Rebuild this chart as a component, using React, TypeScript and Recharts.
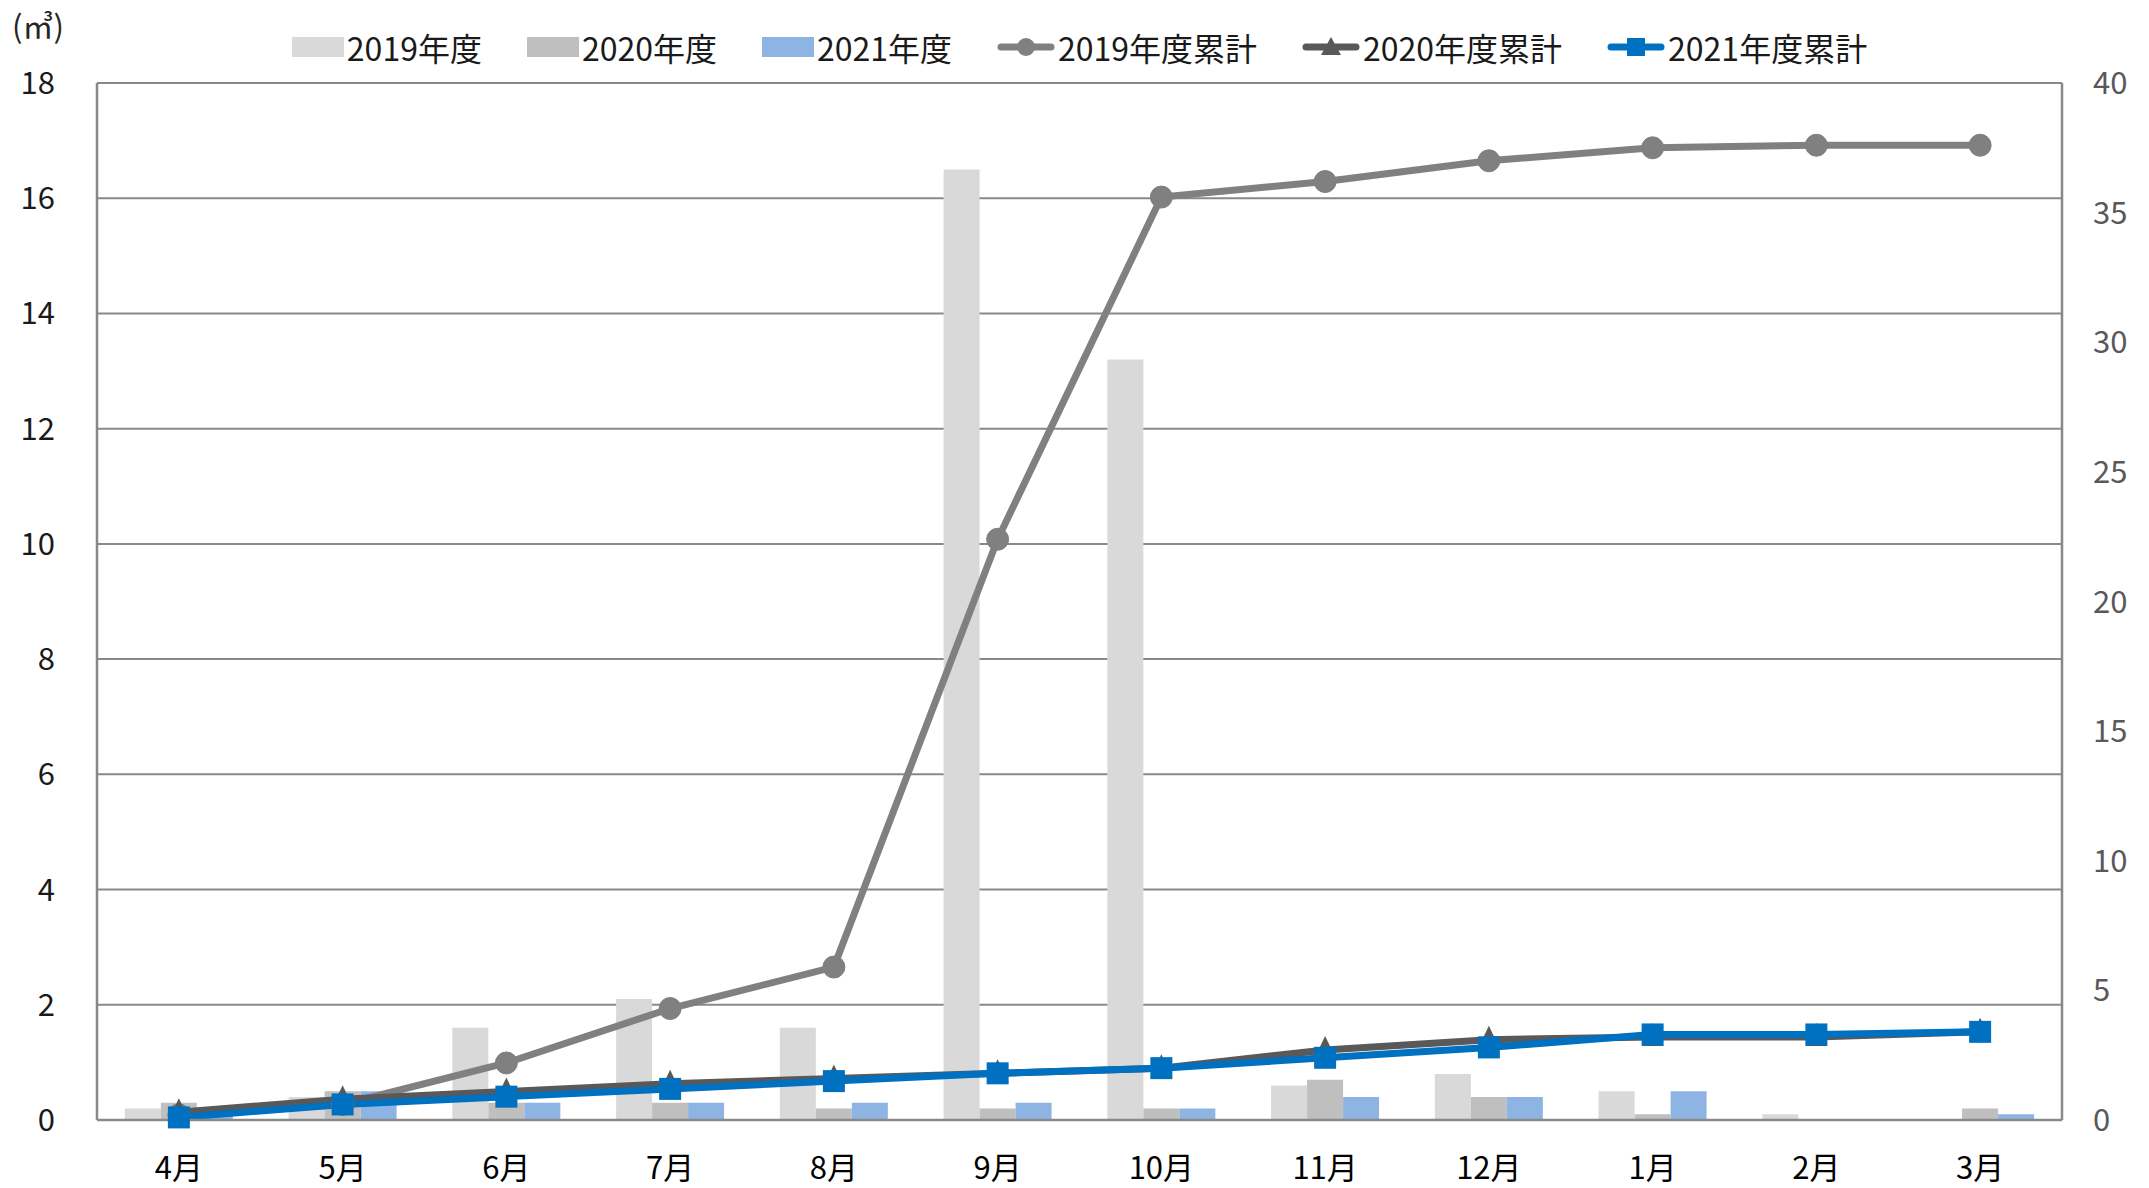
import { Bar, CartesianGrid, ComposedChart, Line, XAxis, YAxis } from "recharts";

// 月ラベル（年度は4月始まり）
const months = ["4月", "5月", "6月", "7月", "8月", "9月", "10月", "11月", "12月", "1月", "2月", "3月"];

// 月別の量（㎥）
const fy2019 = [0.2, 0.4, 1.6, 2.1, 1.6, 16.5, 13.2, 0.6, 0.8, 0.5, 0.1, 0];
const fy2020 = [0.3, 0.5, 0.3, 0.3, 0.2, 0.2, 0.2, 0.7, 0.4, 0.1, 0, 0.2];
const fy2021 = [0.1, 0.5, 0.3, 0.3, 0.3, 0.3, 0.2, 0.4, 0.4, 0.5, 0, 0.1];

// 累計（右軸）
const cum2019 = [0.2, 0.6, 2.2, 4.3, 5.9, 22.4, 35.6, 36.2, 37.0, 37.5, 37.6, 37.6];
const cum2020 = [0.3, 0.8, 1.1, 1.4, 1.6, 1.8, 2.0, 2.7, 3.1, 3.2, 3.2, 3.4];
const cum2021 = [0.1, 0.6, 0.9, 1.2, 1.5, 1.8, 2.0, 2.4, 2.8, 3.3, 3.3, 3.4];

// 軸の目盛り
const leftTicks = [0, 2, 4, 6, 8, 10, 12, 14, 16, 18];
const rightTicks = [0, 5, 10, 15, 20, 25, 30, 35, 40];

const data = months.map((m, i) => ({
  month: m,
  fy2019: fy2019[i],
  fy2020: fy2020[i],
  fy2021: fy2021[i],
  cum2019: cum2019[i],
  cum2020: cum2020[i],
  cum2021: cum2021[i],
}));

const C19 = "#d9d9d9";
const C20 = "#bfbfbf";
const C21 = "#8eb4e3";
const L19 = "#808080";
const L20 = "#595959";
const L21 = "#0070c0";
const AXIS = "#898989";

const TriangleDot = (props: any) => {
  const { cx, cy, index } = props;
  if (cx == null || cy == null) return <g key={`t-${index}`} />;
  return (
    <polygon
      key={`t-${index}`}
      points={`${cx},${cy - 14} ${cx + 11},${cy + 9} ${cx - 11},${cy + 9}`}
      fill={L20}
    />
  );
};

const SquareDot = (props: any) => {
  const { cx, cy, index } = props;
  if (cx == null || cy == null) return <g key={`s-${index}`} />;
  return <rect key={`s-${index}`} x={cx - 11} y={cy - 11} width={22} height={22} fill={L21} />;
};

// 凡例（グラフの上に重ねる）
const legendItems = [
  { label: "2019年度", kind: "bar", color: C19 },
  { label: "2020年度", kind: "bar", color: C20 },
  { label: "2021年度", kind: "bar", color: C21 },
  { label: "2019年度累計", kind: "circle", color: L19 },
  { label: "2020年度累計", kind: "triangle", color: L20 },
  { label: "2021年度累計", kind: "square", color: L21 },
];

const LegendIcon = ({ kind, color }: { kind: string; color: string }) => {
  if (kind === "bar") {
    return (
      <svg width={52} height={20} style={{ display: "block" }}>
        <rect x={0} y={0} width={52} height={20} fill={color} />
      </svg>
    );
  }
  return (
    <svg width={58} height={26} style={{ display: "block" }}>
      <line x1={4} y1={13} x2={54} y2={13} stroke={color} strokeWidth={7} strokeLinecap="round" />
      {kind === "circle" && <circle cx={29} cy={13} r={9} fill={color} />}
      {kind === "triangle" && <polygon points="29,3 39,21 19,21" fill={color} />}
      {kind === "square" && <rect x={20} y={4} width={18} height={18} fill={color} />}
    </svg>
  );
};

const App = () => {
  return (
    <div
      style={{
        position: "absolute",
        left: 0,
        top: 0,
        width: 2149,
        height: 1188,
        background: "#fff",
        fontFamily: "'Noto Sans CJK JP', 'Noto Sans', sans-serif",
      }}
    >
      <div style={{ position: "absolute", left: 12, top: 2, fontSize: 31, color: "#262626" }}>(㎥)</div>
      <div
        style={{
          position: "absolute",
          left: 97,
          width: 1965,
          top: 27,
          display: "flex",
          justifyContent: "center",
          alignItems: "center",
          gap: 45,
          fontSize: 32,
          color: "#1a1a1a",
          lineHeight: "40px",
        }}
      >
        {legendItems.map((it) => (
          <div key={it.label} style={{ display: "flex", alignItems: "center", gap: 3 }}>
            <LegendIcon kind={it.kind} color={it.color} />
            <span>{it.label}</span>
          </div>
        ))}
      </div>
      <ComposedChart
        width={2149}
        height={1188}
        data={data}
        margin={{ top: 83, right: 7, bottom: 8, left: 17 }}
        barCategoryGap="17%"
        barGap={0}
      >
        <CartesianGrid yAxisId="left" vertical={false} stroke={AXIS} strokeWidth={2} />
        <XAxis
          dataKey="month"
          height={60}
          tickLine={false}
          tickSize={0}
          tickMargin={37}
          axisLine={{ stroke: AXIS, strokeWidth: 2.5 }}
          tick={{ fill: "#000", fontSize: 31 }}
          interval={0}
        />
        <YAxis
          yAxisId="left"
          domain={[0, 18]}
          ticks={leftTicks}
          width={80}
          tickLine={false}
          tickSize={0}
          tickMargin={42}
          axisLine={{ stroke: AXIS, strokeWidth: 2.5 }}
          tick={{ fill: "#1a1a1a", fontSize: 31 }}
        />
        <YAxis
          yAxisId="right"
          orientation="right"
          domain={[0, 40]}
          ticks={rightTicks}
          width={80}
          tickLine={false}
          tickSize={0}
          tickMargin={31}
          axisLine={{ stroke: AXIS, strokeWidth: 2.5 }}
          tick={{ fill: "#595959", fontSize: 31 }}
        />
        <Bar yAxisId="left" dataKey="fy2019" fill={C19} isAnimationActive={false} />
        <Bar yAxisId="left" dataKey="fy2020" fill={C20} isAnimationActive={false} />
        <Bar yAxisId="left" dataKey="fy2021" fill={C21} isAnimationActive={false} />
        <Line
          yAxisId="right"
          dataKey="cum2019"
          stroke={L19}
          strokeWidth={7}
          dot={{ r: 11, fill: L19, stroke: L19, strokeWidth: 1 }}
          isAnimationActive={false}
        />
        <Line
          yAxisId="right"
          dataKey="cum2020"
          stroke={L20}
          strokeWidth={7}
          dot={TriangleDot}
          isAnimationActive={false}
        />
        <Line
          yAxisId="right"
          dataKey="cum2021"
          stroke={L21}
          strokeWidth={7}
          dot={SquareDot}
          isAnimationActive={false}
        />
      </ComposedChart>
    </div>
  );
};

export default App;
